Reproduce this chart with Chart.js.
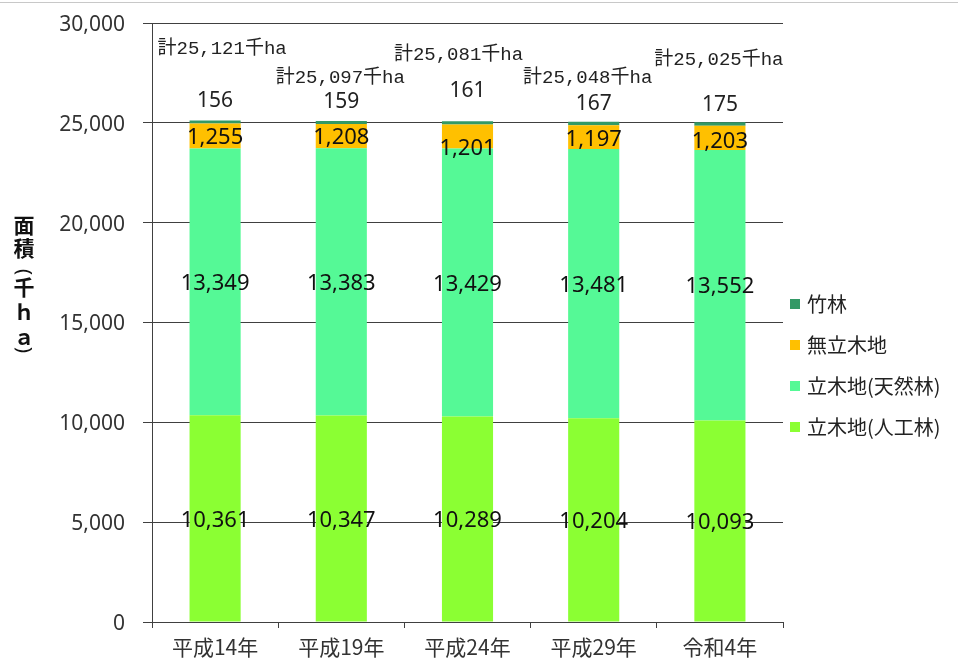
<!DOCTYPE html>
<html>
<head>
<meta charset="utf-8">
<script src="https://cdn.jsdelivr.net/npm/chart.js@4.4.1/dist/chart.umd.min.js"></script>
<style>
  html, body { margin: 0; padding: 0; background: #fff; }
  #marco { position: relative; width: 958px; height: 663px; }
  #lineaSup { position: absolute; left: 0; top: 2px; width: 958px; height: 1px; background: #c8c8c8; }
  canvas { display: block; }
</style>
</head>
<body>
<div id="marco">
  <canvas id="grafico" width="958" height="663"></canvas>
  <div id="lineaSup"></div>
</div>
<script>
// datos (千ha)
const categorias = ['平成14年', '平成19年', '平成24年', '平成29年', '令和4年'];
const jinkourin = [10361, 10347, 10289, 10204, 10093];   // 立木地(人工林)
const tennenrin = [13349, 13383, 13429, 13481, 13552];   // 立木地(天然林)
const muryuboku = [1255, 1208, 1201, 1197, 1203];        // 無立木地
const chikurin = [156, 159, 161, 167, 175];              // 竹林
const goukei = ['計25,121千ha', '計25,097千ha', '計25,081千ha', '計25,048千ha', '計25,025千ha'];
const ejeYTitulo = ['面', '積', '(', '千', 'ｈ', 'ａ', ')'];

// desplazamientos de las etiquetas (px)
const subirTotal = [71, 43, 66, 44, 62];
const moverTotalX = [7, -1, -9, -6, -1];
const subirChiku = [19, 19, 30, 18, 17];
const bajarMury = [0, 0, 10, 1, 2];

const fmt = v => v.toLocaleString('en-US');

const etiquetas = {
    id: 'etiquetas',
    afterDatasetsDraw(chart) {
        const ctx = chart.ctx;
        ctx.save();
        ctx.textAlign = 'center';
        ctx.textBaseline = 'middle';
        chart.data.datasets.forEach((ds, i) => {
            const meta = chart.getDatasetMeta(i);
            meta.data.forEach((bar, j) => {
                const v = ds.data[j];
                if (ds.label === '竹林') {
                    ctx.font = '21px "Noto Sans"';
                    ctx.fillStyle = '#222';
                    ctx.fillText(fmt(v), bar.x, bar.y - subirChiku[j]);
                    ctx.font = '19px "Liberation Mono", "Noto Sans CJK JP"';
                    ctx.fillText(goukei[j], bar.x + moverTotalX[j], bar.y - subirTotal[j]);
                } else {
                    ctx.font = '22px "Noto Sans"';
                    ctx.fillStyle = '#111';
                    let yc = (bar.y + bar.base) / 2 + 2;
                    if (ds.label === '無立木地') yc += bajarMury[j];
                    ctx.fillText(fmt(v), bar.x, yc);
                }
            });
        });
        ctx.restore();
    },
    afterDraw(chart) {
        const ctx = chart.ctx;
        const area = chart.chartArea;
        ctx.save();
        // leyenda
        const items = chart.data.datasets.slice().reverse();
        ctx.textAlign = 'left';
        ctx.textBaseline = 'middle';
        ctx.font = '20px "Noto Sans CJK JP"';
        items.forEach((ds, k) => {
            const y = 304 + k * 41;
            ctx.fillStyle = ds.backgroundColor;
            ctx.fillRect(area.right + 7, y - 5, 10, 10);
            ctx.fillStyle = '#222';
            ctx.fillText(ds.leyenda, area.right + 24, y);
        });
        // titulo del eje y (vertical, parentesis girados)
        ctx.textAlign = 'center';
        ctx.fillStyle = '#111';
        const posY = [225, 248, 272, 287, 312, 337, 350];
        ejeYTitulo.forEach((c, k) => {
            if (c === '(' || c === ')') {
                ctx.save();
                ctx.translate(24, posY[k]);
                ctx.rotate(Math.PI / 2);
                ctx.font = '20px "Noto Sans"';
                ctx.fillText(c, 0, 0);
                ctx.restore();
            } else {
                ctx.font = 'bold 21px "Noto Sans CJK JP"';
                ctx.fillText(c, 24, posY[k]);
            }
        });
        ctx.restore();
    }
};

new Chart(document.getElementById('grafico'), {
    type: 'bar',
    data: {
        labels: categorias,
        datasets: [
            { label: '人工林', leyenda: '立木地(人工林)', data: jinkourin, backgroundColor: '#8bff33' },
            { label: '天然林', leyenda: '立木地(天然林)', data: tennenrin, backgroundColor: '#55f996' },
            { label: '無立木地', leyenda: '無立木地', data: muryuboku, backgroundColor: '#ffc000' },
            { label: '竹林', leyenda: '竹林', data: chikurin, backgroundColor: '#339966' }
        ]
    },
    options: {
        responsive: false,
        animation: false,
        events: [],
        layout: { padding: { top: 23, right: 175, bottom: 0, left: 0 } },
        datasets: { bar: { categoryPercentage: 1, barPercentage: 0.405 } },
        plugins: {
            legend: { display: false },
            tooltip: { enabled: false }
        },
        scales: {
            x: {
                stacked: true,
                grid: { drawOnChartArea: false, drawTicks: true, tickLength: 6, color: '#404040', offset: true },
                border: { color: '#404040' },
                ticks: { font: { family: '"Noto Sans CJK JP"', size: 21 }, color: '#333', padding: 6 },
                afterFit: s => { s.height = 41; }
            },
            y: {
                stacked: true,
                min: 0,
                max: 30000,
                ticks: { stepSize: 5000, font: { family: '"Noto Sans"', size: 21 }, color: '#333', padding: 18, labelOffset: 2, callback: v => fmt(v) },
                grid: { color: '#404040', tickLength: 9 },
                border: { color: '#404040' },
                afterFit: s => { s.width = 152; s.paddingTop = 0; s.paddingBottom = 0; }
            }
        }
    },
    plugins: [etiquetas]
});
</script>
</body>
</html>
